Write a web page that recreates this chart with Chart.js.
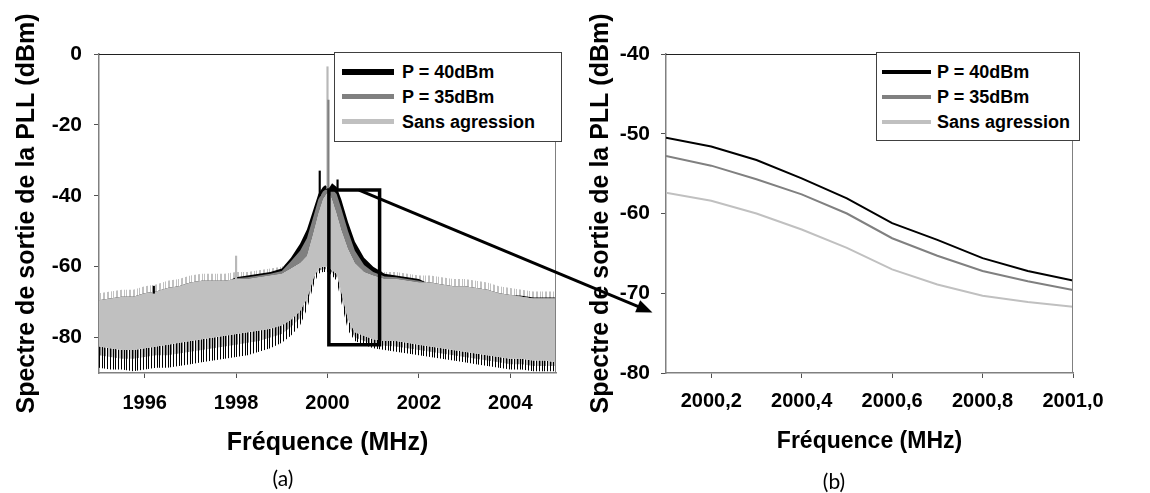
<!DOCTYPE html>
<html>
<head>
<meta charset="utf-8">
<script src="https://cdn.jsdelivr.net/npm/chart.js@4/dist/chart.umd.min.js"></script>
<style>
  body { margin: 0; background: #fff; }
  #page { position: relative; width: 1150px; height: 493px; overflow: hidden; }
  #page canvas { position: absolute; top: 0; }
  .legende { position: absolute; background: #fff; border: 1px solid #404040; box-sizing: border-box; }
  .legende div { position: absolute; }
  .legende span { position: absolute; font: bold 18px "Liberation Sans", Arial, sans-serif; line-height: 20px; white-space: nowrap; color: #000; }
  .etiquette { position: absolute; font: 21px Lato, "Open Sans", sans-serif; transform: translate(-50%, -50%); color: #000; }
</style>
</head>
<body>
<div id="page">
  <canvas id="grapheA" width="575" height="493" style="left:0;width:575px;height:493px"></canvas>
  <canvas id="grapheB" width="575" height="493" style="left:575px;width:575px;height:493px"></canvas>
  <canvas id="fleche" width="1150" height="493" style="left:0;width:1150px;height:493px;pointer-events:none"></canvas>
  <div class="etiquette" style="left:283px;top:477px">(a)</div>
  <div class="etiquette" style="left:834px;top:480px">(b)</div>
</div>
<script>
'use strict'

// SERIES
var series = ['P = 40dBm', 'P = 35dBm', 'Sans agression'];
var couleurs = ['#000000', '#808080', '#c0c0c0'];

// GRAPHE (a) : enveloppes du spectre (haut / bas de chaque bruit)
var freqA = [1995, 1995.25, 1995.5, 1995.75, 1996, 1996.25, 1996.5, 1996.75, 1997, 1997.25, 1997.5, 1997.75, 1998, 1998.25, 1998.5, 1998.75, 1999,
    1999.2, 1999.4, 1999.55, 1999.7, 1999.8, 1999.9, 1999.95, 2000, 2000.05, 2000.1, 2000.2, 2000.3, 2000.45, 2000.6, 2000.8,
    2001, 2001.25, 2001.5, 2001.75, 2002, 2002.25, 2002.5, 2002.75, 2003, 2003.25, 2003.5, 2003.75, 2004, 2004.25, 2004.5, 2004.75, 2005];

var haut40 = [-70, -69.5, -69, -69, -68, -67.5, -66.5, -66, -65, -64.5, -64.5, -64.5, -63, -62.5, -62, -61.5, -60.5,
    -57.5, -53.5, -49.5, -43.5, -39.5, -37.5, -37, -37.5, -37.5, -36.5, -37.5, -41, -47.5, -53, -57.5,
    -60, -62, -62.5, -63, -63.5, -65, -65.5, -66, -66, -66.5, -67, -68, -68, -68.2, -68.7, -68.7, -68.7];
var bas40 = [-88.5, -89, -89, -89.5, -89, -88.5, -88.5, -88, -87.5, -87, -86.5, -86, -85.5, -85, -84, -83, -81.5,
    -79.5, -76.5, -72, -65, -62, -61.5, -61.5, -61.5, -62, -62.5, -64, -70, -78, -81, -82,
    -83, -83.5, -84, -84.5, -85, -85.5, -86, -86.5, -87, -87.5, -88, -88.5, -89, -89, -89.5, -89.5, -89.5];

var haut35 = [-69.8, -69.3, -68.8, -68.8, -67.8, -67.3, -66.3, -65.8, -64.8, -64.3, -64.3, -64.3, -63.3, -63, -62.5, -62, -61.2,
    -58.5, -55.5, -52, -45.5, -41, -38.8, -38.3, -38.3, -38.5, -38, -39.5, -43.5, -50, -55.5, -59.5,
    -61.5, -62.8, -63, -63.5, -64, -64.8, -65.3, -65.8, -65.8, -66.3, -66.8, -67.8, -68.3, -68.8, -69.3, -69.3, -69.3];
var bas35 = [-85, -85.5, -86, -86, -85.5, -85, -85, -84.5, -84, -83.5, -83, -82.5, -82, -81.5, -81, -80, -79,
    -77, -74.5, -70.5, -64, -61.2, -60.7, -60.7, -60.7, -61.2, -61.7, -63, -68.5, -76.5, -80, -81,
    -82, -82.3, -82.5, -83, -83.5, -84, -84.5, -85, -85.5, -86, -86.5, -87, -87.5, -87.5, -88, -88, -88];

var hautSans = [-69.5, -69, -68.5, -68.5, -67.5, -67, -66, -65.5, -64.5, -64, -64, -64, -63.5, -63.5, -63, -62.5, -62,
    -60.5, -59, -57, -50, -45, -41, -40, -39, -39.5, -41, -45, -49.5, -55, -59, -61.5,
    -62.5, -63.5, -63.5, -64, -64.5, -64.5, -65, -65.5, -65.5, -66, -66.5, -67.5, -68, -68.5, -69, -69, -69];
var basSans = [-82.5, -83, -83.5, -83.5, -83, -82.5, -82, -81.5, -81, -80.5, -80, -79.5, -79, -78.5, -78, -77.5, -76.5,
    -75, -72.5, -69, -63, -60.5, -60, -60, -60, -60.5, -61, -62, -67, -75, -78.5, -79.5,
    -80.5, -81, -81, -81.5, -82, -82.5, -83, -83.5, -84, -84.5, -85, -85.5, -86, -86, -86.5, -86.5, -87];
// sommets des pointes de bruit au-dessus de la bande "Sans agression"
var creteSans = [-67.5, -67, -66.5, -66.5, -65.5, -65, -64, -63.5, -62.5, -62, -62, -62, -61.5, -61.5, -61, -60.5, -60,
    -58.5, -57, -55, -48, -43, -39, -38, -37, -37.5, -39, -43, -47.5, -53, -57, -59.5,
    -60.5, -61.5, -61.5, -62, -62.5, -62.5, -63, -63.5, -63.5, -64, -64.5, -65.5, -66, -66.5, -67, -67, -67];

// pics isolés : [fréquence, bas, haut]
var pics40 = [[1999.83, -40, -33], [2000.22, -38, -35.5], [1996.2, -67.5, -65.5]];
var pics35 = [[2000.02, -38.5, -13]];
var picsSans = [[2000.0, -38, -3.6], [1998.0, -63.5, -57]];

// zone agrandie et flèche
var cadreX = [2000.03, 2001.14];
var cadreY = [-38.4, -82];
var flecheDebut = [2000.69, -38.4];   // graphe (a)
var flecheFin = [2000.07, -72.4];     // graphe (b)

var ticksAX = [1996, 1998, 2000, 2002, 2004];
var ticksAY = [0, -20, -40, -60, -80];

// GRAPHE (b)
var freqB = [2000.1, 2000.2, 2000.3, 2000.4, 2000.5, 2000.6, 2000.7, 2000.8, 2000.9, 2001.0];
var p40B = [-50.5, -51.6, -53.3, -55.6, -58.1, -61.2, -63.3, -65.6, -67.2, -68.4];
var p35B = [-52.8, -54.0, -55.7, -57.6, -60.0, -63.1, -65.3, -67.2, -68.5, -69.6];
var sansB = [-57.4, -58.4, -60.0, -62.0, -64.3, -67.0, -68.9, -70.3, -71.1, -71.7];

var ticksBX = [2000.2, 2000.4, 2000.6, 2000.8, 2001.0];
var ticksBY = [-40, -50, -60, -70, -80];


var arial = '"Liberation Sans", Arial, sans-serif';

// motif de traits verticaux pour les franges de bruit
function rayure(cols) {
    var c = document.createElement('canvas');
    c.width = cols.length;
    c.height = 1;
    var g = c.getContext('2d');
    cols.forEach(function (col, i) {
        if (col) {
            g.fillStyle = col;
            g.fillRect(i, 0, 1, 1);
        }
    });
    return g.createPattern(c, 'repeat');
}
var N = '#000000', G = '#808080', C = '#c0c0c0';
var motifNoir = rayure([N, null, null, N, null, N, null, null, N, null, null]);
var motifGris = rayure([null, G, C, null, C, null, G, null, null, C, C]);
var motifCrete = rayure([C, null, null, C, C, null, null, C, null, C, null, null, C]);

function bande(valeurs, fond, cible, ordre) {
    return {
        data: freqA.map(function (f, i) { return {x: f, y: valeurs[i]}; }),
        borderWidth: 0,
        pointRadius: 0,
        fill: cible,
        backgroundColor: fond,
        order: ordre
    };
}

function pics(liste, couleur, epaisseur) {
    return {
        type: 'bar',
        data: liste.map(function (p) { return {x: p[0], y: [p[1], p[2]]}; }),
        backgroundColor: couleur,
        barThickness: epaisseur,
        grouped: false,
        order: 0
    };
}

// cadre du graphe : trait du haut et de droite
var cadre = {
    id: 'cadre',
    afterDatasetsDraw: function (chart) {
        var ctx = chart.ctx, a = chart.chartArea;
        ctx.save();
        ctx.lineWidth = 1;
        ctx.strokeStyle = '#202020';
        ctx.beginPath();
        ctx.moveTo(a.left, a.top + 0.5);
        ctx.lineTo(a.right, a.top + 0.5);
        ctx.stroke();
        ctx.strokeStyle = '#808080';
        ctx.beginPath();
        ctx.moveTo(a.right - 0.5, a.top);
        ctx.lineTo(a.right - 0.5, a.bottom);
        ctx.stroke();
        ctx.restore();
    }
};

function axeX(min, max, valeurs, texte, tailleTitre, padTitre, padTicks, format) {
    return {
        type: 'linear', min: min, max: max, offset: false,
        afterBuildTicks: function (s) { s.ticks = valeurs.map(function (v) { return {value: v}; }); },
        afterFit: function (s) { s.height = 120; },
        grid: {drawOnChartArea: false, tickLength: 5, tickColor: '#505050', offset: false},
        border: {color: '#808080', width: 1.5},
        ticks: {font: {family: arial, weight: 'bold', size: 20}, color: '#000', padding: padTicks, maxRotation: 0, autoSkip: false, callback: format},
        title: {display: true, text: texte, color: '#000', font: {family: arial, weight: 'bold', size: tailleTitre, lineHeight: 1}, padding: {top: 0, bottom: padTitre}}
    };
}

function axeY(min, max, valeurs, largeur, padTitre, padTicks) {
    return {
        type: 'linear', min: min, max: max,
        afterBuildTicks: function (s) { s.ticks = valeurs.map(function (v) { return {value: v}; }); },
        afterFit: function (s) { s.width = largeur; },
        grid: {drawOnChartArea: false, tickLength: 5, tickColor: '#505050'},
        border: {color: '#808080', width: 1.5},
        ticks: {font: {family: arial, weight: 'bold', size: 21}, color: '#000', padding: padTicks, autoSkip: false, callback: function (v) { return String(v); }},
        title: {display: true, text: 'Spectre de sortie de la PLL (dBm)', color: '#000', font: {family: arial, weight: 'bold', size: 25, lineHeight: 1}, padding: {top: padTitre, bottom: 0}}
    };
}

function optionsGraphe(padDroite, x, y) {
    return {
        responsive: false,
        animation: false,
        devicePixelRatio: 1,
        plugins: {legend: {display: false}, tooltip: {enabled: false}},
        elements: {point: {radius: 0}, line: {tension: 0}},
        layout: {padding: {left: 0, right: padDroite, top: 54, bottom: 0}},
        scales: {x: x, y: y}
    };
}


// GRAPHE (a)
var grapheA = new Chart(document.getElementById('grapheA'), {
    type: 'line',
    data: {
        datasets: [
            bande(basSans, 'rgba(0,0,0,0)', false, 3),   // 0
            bande(hautSans, couleurs[2], 0, 3),          // 1
            bande(haut35, couleurs[1], 1, 4),            // 2
            bande(bas35, motifGris, 0, 4),               // 3
            bande(haut40, couleurs[0], 1, 5),            // 4
            bande(bas40, motifNoir, 0, 5),               // 5
            bande(creteSans, motifCrete, 1, 6),          // 6
            pics(pics40, couleurs[0], 1.5),
            pics(pics35, couleurs[1], 1.5),
            pics(picsSans, '#b8b8b8', 1.5),
            {
                data: [
                    {x: cadreX[0], y: cadreY[0]}, {x: cadreX[1], y: cadreY[0]},
                    {x: cadreX[1], y: cadreY[1]}, {x: cadreX[0], y: cadreY[1]},
                    {x: cadreX[0], y: cadreY[0]}
                ],
                borderColor: '#000',
                borderWidth: 3.5,
                borderJoinStyle: 'miter',
                borderCapStyle: 'square',
                pointRadius: 0,
                fill: false,
                order: -1
            }
        ]
    },
    options: optionsGraphe(19,
        axeX(1995, 2005, ticksAX, 'Fréquence (MHz)', 25, 37.5, 13.5, function (v) { return String(v); }),
        axeY(-90, 0, ticksAY, 99, 14.5, 12)),
    plugins: [cadre]
});


// GRAPHE (b)
var grapheB = new Chart(document.getElementById('grapheB'), {
    type: 'line',
    data: {
        datasets: [p40B, p35B, sansB].map(function (valeurs, i) {
            return {
                data: freqB.map(function (f, j) { return {x: f, y: valeurs[j]}; }),
                borderColor: couleurs[i],
                borderWidth: 2,
                pointRadius: 0,
                fill: false
            };
        })
    },
    options: optionsGraphe(77,
        axeX(2000.1, 2001.0, ticksBX, 'Fréquence (MHz)', 23, 39.8, 11, function (v) { return Number(v).toFixed(1).replace('.', ','); }),
        axeY(-80, -40, ticksBY, 91, 13.5, 11)),
    plugins: [cadre]
});


// FLECHE entre les deux graphes
(function () {
    var cA = document.getElementById('grapheA'), cB = document.getElementById('grapheB');
    var x1 = cA.offsetLeft + grapheA.scales.x.getPixelForValue(flecheDebut[0]);
    var y1 = grapheA.scales.y.getPixelForValue(flecheDebut[1]);
    var x2 = cB.offsetLeft + grapheB.scales.x.getPixelForValue(flecheFin[0]);
    var y2 = grapheB.scales.y.getPixelForValue(flecheFin[1]);
    var ctx = document.getElementById('fleche').getContext('2d');
    var dx = x2 - x1, dy = y2 - y1, L = Math.hypot(dx, dy), ux = dx / L, uy = dy / L;
    ctx.strokeStyle = '#000';
    ctx.fillStyle = '#000';
    ctx.lineWidth = 3;
    ctx.beginPath();
    ctx.moveTo(x1, y1);
    ctx.lineTo(x2 - ux * 12, y2 - uy * 12);
    ctx.stroke();
    ctx.beginPath();
    ctx.moveTo(x2, y2);
    ctx.lineTo(x2 - ux * 16 - uy * 6.5, y2 - uy * 16 + ux * 6.5);
    ctx.lineTo(x2 - ux * 16 + uy * 6.5, y2 - uy * 16 - ux * 6.5);
    ctx.closePath();
    ctx.fill();
})();


// LEGENDES
function legende(left, top, largeur, hauteur, traitX, traitL, texteX, epaisseurs) {
    var boite = document.createElement('div');
    boite.className = 'legende';
    boite.style.cssText = 'left:' + left + 'px;top:' + top + 'px;width:' + largeur + 'px;height:' + hauteur + 'px';
    series.forEach(function (nom, i) {
        var y = 19 + i * 24.9;
        var trait = document.createElement('div');
        trait.style.cssText = 'left:' + traitX + 'px;top:' + (y - epaisseurs[i] / 2) + 'px;width:' + traitL + 'px;height:' + epaisseurs[i] + 'px;background:' + couleurs[i];
        var texte = document.createElement('span');
        texte.textContent = nom;
        texte.style.left = texteX + 'px';
        texte.style.top = (y - 10) + 'px';
        boite.appendChild(trait);
        boite.appendChild(texte);
    });
    document.getElementById('page').appendChild(boite);
}
legende(334, 52, 228, 90, 7, 52, 67, [6, 5, 5]);
legende(876, 52, 204, 89, 5, 49, 60, [4, 4, 4]);
</script>
</body>
</html>
